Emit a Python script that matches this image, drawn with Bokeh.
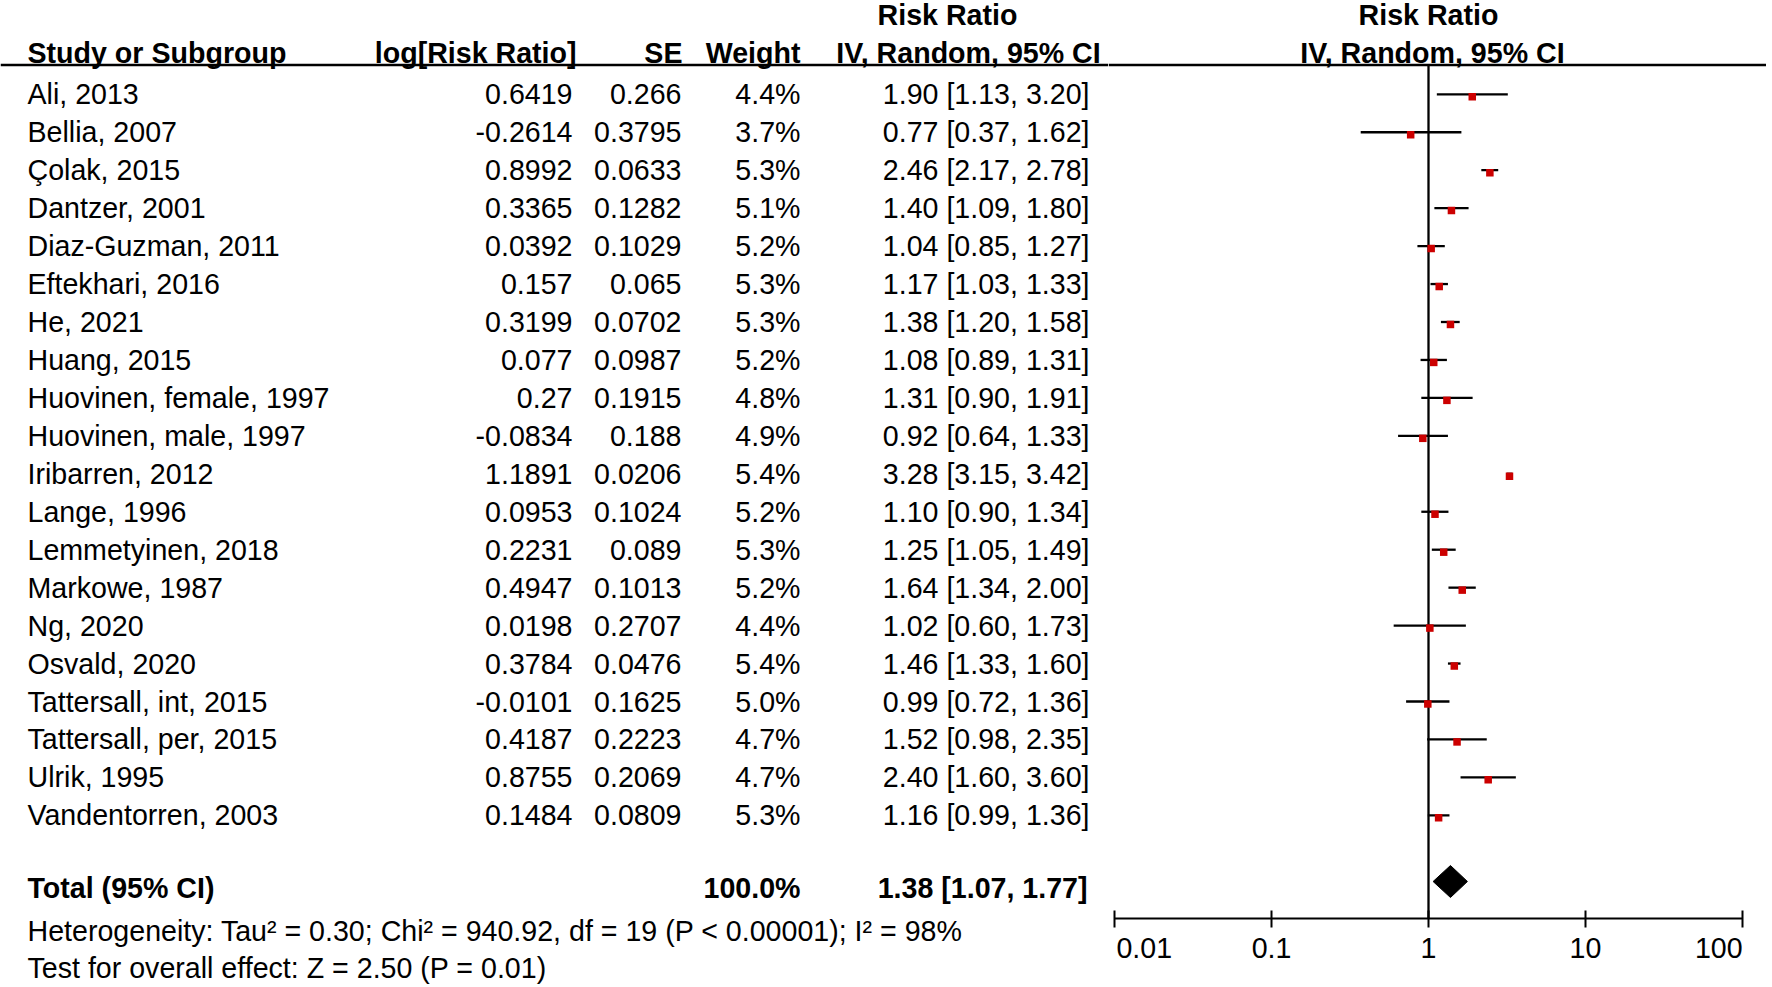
from bokeh.plotting import figure
from bokeh.models import Range1d, Span, LogAxis, FixedTicker, CustomJSTickFormatter
from bokeh.layouts import row
from bokeh.embed import file_html
from bokeh.resources import INLINE
from bokeh.core.properties import value

# ---------------- data ----------------
studies = ["Ali, 2013", "Bellia, 2007", "Çolak, 2015", "Dantzer, 2001", "Diaz-Guzman, 2011",
           "Eftekhari, 2016", "He, 2021", "Huang, 2015", "Huovinen, female, 1997",
           "Huovinen, male, 1997", "Iribarren, 2012", "Lange, 1996", "Lemmetyinen, 2018",
           "Markowe, 1987", "Ng, 2020", "Osvald, 2020", "Tattersall, int, 2015",
           "Tattersall, per, 2015", "Ulrik, 1995", "Vandentorren, 2003"]
log_rr = [0.6419, -0.2614, 0.8992, 0.3365, 0.0392, 0.157, 0.3199, 0.077, 0.27, -0.0834,
          1.1891, 0.0953, 0.2231, 0.4947, 0.0198, 0.3784, -0.0101, 0.4187, 0.8755, 0.1484]
se = [0.266, 0.3795, 0.0633, 0.1282, 0.1029, 0.065, 0.0702, 0.0987, 0.1915, 0.188,
      0.0206, 0.1024, 0.089, 0.1013, 0.2707, 0.0476, 0.1625, 0.2223, 0.2069, 0.0809]
weight = [4.4, 3.7, 5.3, 5.1, 5.2, 5.3, 5.3, 5.2, 4.8, 4.9,
          5.4, 5.2, 5.3, 5.2, 4.4, 5.4, 5.0, 4.7, 4.7, 5.3]
rr = [1.90, 0.77, 2.46, 1.40, 1.04, 1.17, 1.38, 1.08, 1.31, 0.92,
      3.28, 1.10, 1.25, 1.64, 1.02, 1.46, 0.99, 1.52, 2.40, 1.16]
ci_low = [1.13, 0.37, 2.17, 1.09, 0.85, 1.03, 1.20, 0.89, 0.90, 0.64,
          3.15, 0.90, 1.05, 1.34, 0.60, 1.33, 0.72, 0.98, 1.60, 0.99]
ci_high = [3.20, 1.62, 2.78, 1.80, 1.27, 1.33, 1.58, 1.31, 1.91, 1.33,
           3.42, 1.34, 1.49, 2.00, 1.73, 1.60, 1.36, 2.35, 3.60, 1.36]
total_weight = 100.0
total_rr, total_low, total_high = 1.38, 1.07, 1.77
heterogeneity = "Heterogeneity: Tau² = 0.30; Chi² = 940.92, df = 19 (P < 0.00001); I² = 98%"
overall_test = "Test for overall effect: Z = 2.50 (P = 0.01)"
x_ticks = [0.01, 0.1, 1, 10, 100]

rows = list(range(len(studies)))

# ---------------- layout constants (picture pixels) ----------------
FONT = value("Liberation Sans")
FS = "28.6px"
H = 985
W_T = 1108
W_F = 658
ROW0 = 93.8        # y of first study row
ROW_H = 37.95      # row pitch
AXIS_Y = 918       # y of the bottom axis line (frame bottom)
X_ONE = 1428       # x of RR = 1
DEC = 157          # pixels per decade
LW = 2.3


def ry(py):
    return (py - ROW0) / ROW_H


Y_HDR1 = ry(14.7)
Y_HDR2 = ry(52.5)
Y_LINE = ry(64.5)
Y_TOTAL = 20.92
Y_DIAM = ry(881)
DIAM_H = 16 / ROW_H
Y_HET = ry(930.5)
Y_TEST = ry(967)
SQ_DY = 0.065

# ---------------- table figure ----------------
tbl = figure(width=W_T, height=H, x_range=Range1d(0, W_T),
             y_range=Range1d(ry(AXIS_Y), ry(0)),
             x_axis_location=None, y_axis_location=None,
             output_backend="svg", toolbar_location=None,
             min_border=0, min_border_bottom=H - AXIS_Y)
tbl.outline_line_color = None
tbl.xgrid.visible = False
tbl.ygrid.visible = False


def ttext(p, x, y, txt, align, bold=False, level="glyph"):
    p.text(x=x, y=y, text=txt, text_font=FONT, text_font_size=FS,
           text_font_style="bold" if bold else "normal", text_align=align,
           text_baseline="middle", text_color="black", level=level)


# headers
ttext(tbl, [947], [Y_HDR1], ["Risk Ratio"], "center", True)
ttext(tbl, [27], [Y_HDR2], ["Study or Subgroup"], "left", True)
ttext(tbl, [576], [Y_HDR2], ["log[Risk Ratio]"], "right", True)
ttext(tbl, [682], [Y_HDR2], ["SE"], "right", True)
ttext(tbl, [800], [Y_HDR2], ["Weight"], "right", True)
ttext(tbl, [968], [Y_HDR2], ["IV, Random, 95% CI"], "center", True)
tbl.add_layout(Span(location=Y_LINE, dimension="width", line_color="black", line_width=2.5))

# body
n = len(rows)
ttext(tbl, [27] * n, rows, studies, "left")
ttext(tbl, [572] * n, rows, [str(v) for v in log_rr], "right")
ttext(tbl, [681] * n, rows, [str(v) for v in se], "right")
ttext(tbl, [800] * n, rows, [f"{w:.1f}%" for w in weight], "right")
ttext(tbl, [1089] * n, rows,
      [f"{a:.2f} [{b:.2f}, {c:.2f}]" for a, b, c in zip(rr, ci_low, ci_high)], "right")

# total + footers (footers lie below the frame, so draw them unclipped)
ttext(tbl, [27], [Y_TOTAL], ["Total (95% CI)"], "left", True)
ttext(tbl, [800], [Y_TOTAL], [f"{total_weight:.1f}%"], "right", True)
ttext(tbl, [1087], [Y_TOTAL], [f"{total_rr:.2f} [{total_low:.2f}, {total_high:.2f}]"], "right", True)
ttext(tbl, [27], [Y_HET], [heterogeneity], "left", level="overlay")
ttext(tbl, [27], [Y_TEST], [overall_test], "left", level="overlay")

# ---------------- forest figure ----------------
x_lo = 10 ** ((W_T - X_ONE) / DEC)
x_hi = 10 ** ((W_T + W_F - X_ONE) / DEC)
fp = figure(width=W_F, height=H, x_axis_type="log", x_range=Range1d(x_lo, x_hi),
            y_range=Range1d(ry(AXIS_Y), ry(0)),
            x_axis_location=None, y_axis_location=None,
            output_backend="svg", toolbar_location=None,
            min_border=0, min_border_bottom=H - AXIS_Y)
fp.outline_line_color = None
fp.xgrid.visible = False
fp.ygrid.visible = False

# first label starts at its tick, last label ends at its tick (no-break space padding;
# Bokeh keeps edge labels inside the canvas)
ax = LogAxis(bounds=(x_ticks[0], x_ticks[-1]), ticker=FixedTicker(ticks=x_ticks, minor_ticks=[]),
             formatter=CustomJSTickFormatter(code="""
                 const s = String(tick);
                 if (index == 0) return '\\u00A0' + s;
                 if (index == ticks.length - 1) return s + '\\u00A0'.repeat(3);
                 return s;"""))
ax.axis_line_color = "black"
ax.axis_line_width = 2
ax.major_tick_line_color = "black"
ax.major_tick_line_width = 2
ax.major_tick_in = 8
ax.major_tick_out = 9
ax.minor_tick_line_color = None
ax.major_label_text_font = "Liberation Sans"
ax.major_label_text_font_size = FS
ax.major_label_text_color = "black"
ax.major_label_standoff = 4
fp.add_layout(ax, "below")

ttext(fp, [1], [Y_HDR1], ["Risk Ratio"], "center", True)
ttext(fp, [1.06], [Y_HDR2], ["IV, Random, 95% CI"], "center", True)
fp.add_layout(Span(location=Y_LINE, dimension="width", line_color="black", line_width=2.5))

# null line
fp.segment(x0=[1], y0=[Y_LINE], x1=[1], y1=[ry(AXIS_Y)], line_color="black", line_width=LW)

# CIs and point estimates
fp.segment(x0=ci_low, y0=rows, x1=ci_high, y1=rows, line_color="black", line_width=LW)
fp.scatter(x=rr, y=[r + SQ_DY for r in rows], marker="square", size=7.5,
           fill_color="#CC0000", line_color=None)

# pooled diamond
fp.patch(x=[total_low, total_rr, total_high, total_rr],
         y=[Y_DIAM, Y_DIAM - DIAM_H, Y_DIAM, Y_DIAM + DIAM_H],
         fill_color="black", line_color="black", line_width=1)

layout = row(tbl, fp)
open("out.html", "w").write(file_html(layout, INLINE))
